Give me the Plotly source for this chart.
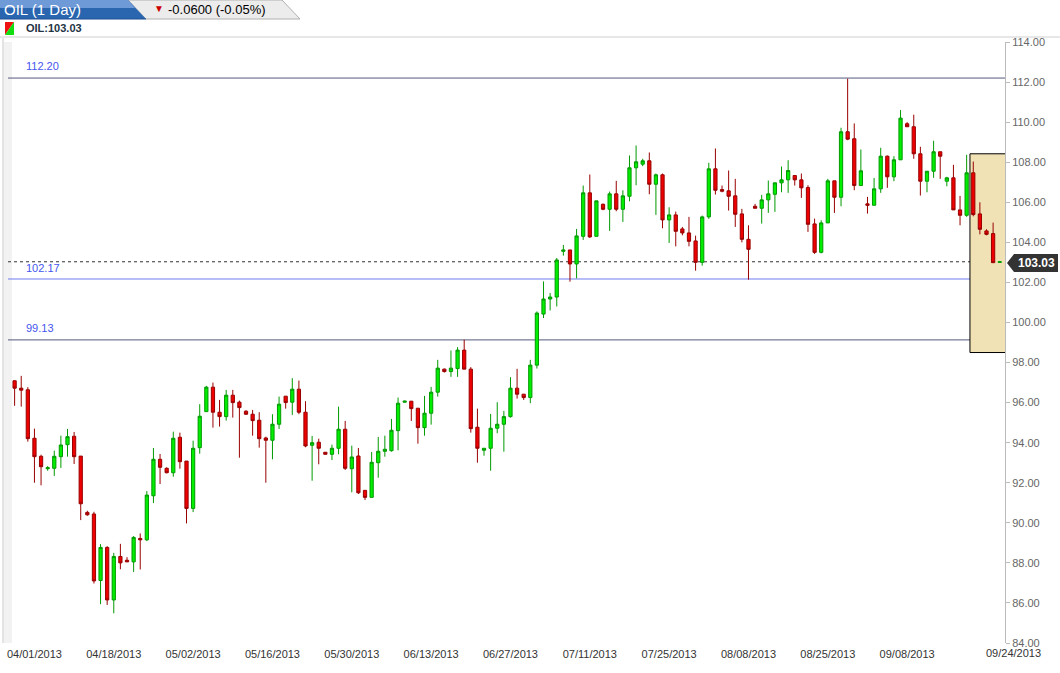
import plotly.graph_objects as go

opens = [97.09,96.72,96.64,94.22,93.32,92.70,92.72,93.30,93.90,94.32,93.33,90.52,90.44,87.12,88.77,86.15,88.32,88.13,88.05,89.22,89.15,91.35,93.17,92.72,92.50,
94.27,93.08,90.72,93.75,95.55,96.77,95.52,95.30,96.37,96.02,95.57,95.42,95.12,94.235,94.12,94.92,96.32,96.02,96.67,95.52,93.87,94.02,93.52,93.42,93.72,94.67,
92.70,93.335,91.62,91.27,93.00,93.57,93.60,94.60,96.02,96.07,95.72,94.75,95.47,96.52,97.67,97.55,97.70,98.62,97.67,94.77,93.62,93.72,94.72,94.92,95.30,96.72,
96.42,96.25,97.87,100.42,101.17,101.27,103.55,103.62,102.92,104.30,106.47,104.30,105.90,105.65,106.42,105.65,106.30,107.72,107.90,108.07,106.90,107.37,105.12,105.37,
104.67,104.47,104.07,103.00,105.27,107.67,106.635,106.57,106.32,105.42,104.15,105.80,105.70,106.12,106.40,106.97,107.12,107.335,107.12,106.735,104.92,103.50,104.97,107.07,106.25,109.52,
109.17,106.835,105.92,105.85,106.67,108.30,107.27,108.12,109.92,109.77,108.42,107.05,107.55,108.52,107.05,107.22,105.62,105.35,107.47,105.42,104.57,104.435,103.00]
highs = [97.10,97.335,96.77,94.70,93.40,92.83,93.60,94.35,94.685,94.535,93.33,90.60,90.55,88.935,88.835,88.50,88.95,88.285,89.335,89.47,91.585,93.735,93.435,92.77,94.55,
94.50,93.08,94.10,95.92,96.835,97.00,96.135,96.635,96.635,96.10,95.62,95.635,95.52,94.30,95.42,96.30,96.32,97.22,97.10,96.07,94.335,94.20,93.52,93.90,95.80,95.085,
93.85,93.735,91.62,93.535,94.285,94.35,95.185,96.25,96.10,96.07,95.72,96.335,96.785,98.135,97.70,98.60,98.77,99.135,97.77,95.70,93.72,95.435,96.02,95.585,97.27,97.685,
96.42,98.135,100.55,102.05,101.47,103.22,103.87,103.62,104.67,106.835,107.385,106.07,105.935,106.535,107.07,106.60,108.335,108.835,108.17,108.485,107.435,107.435,105.75,105.535,
104.77,105.27,104.335,105.335,107.97,108.685,106.835,107.585,107.17,105.67,104.85,105.92,106.37,107.085,106.97,107.785,108.10,107.335,107.435,106.85,105.185,105.10,107.17,107.07,109.72,112.17,
109.935,108.635,106.27,107.215,108.72,108.335,108.30,110.60,110.00,110.37,108.77,107.55,109.07,108.52,107.27,107.87,106.32,108.37,108.035,106.00,104.65,104.985,103.05]
lows = [95.84,95.80,94.05,92.00,91.87,92.60,92.34,92.74,93.30,92.935,90.135,90.35,86.97,85.935,85.90,85.485,87.68,88.05,87.55,87.67,89.085,90.985,91.935,92.47,92.30,
92.70,89.97,90.535,93.45,95.55,94.75,94.80,95.10,95.25,93.25,95.385,94.35,93.75,92.00,93.17,94.685,95.70,95.385,95.42,93.77,92.10,92.92,93.42,93.135,93.42,92.635,
91.52,91.435,91.135,91.27,92.25,93.30,93.55,93.62,96.00,95.085,93.95,94.35,94.90,96.30,97.50,97.285,97.285,97.67,94.50,93.00,93.35,92.60,94.47,93.55,95.25,96.20,
96.135,95.97,97.70,100.22,100.60,100.80,103.335,102.035,102.20,104.12,104.22,104.30,105.60,104.57,105.55,105.02,106.05,106.85,107.80,106.40,105.37,104.70,103.97,103.80,
104.35,103.80,102.585,102.835,105.17,106.385,106.50,105.585,104.77,104.00,102.135,105.70,104.935,105.47,105.52,106.50,106.47,106.835,106.22,104.52,103.42,103.45,104.97,105.47,105.80,109.10,
106.60,106.835,105.435,105.85,106.47,106.72,107.05,108.12,109.77,108.17,106.335,106.50,107.22,107.17,106.80,105.62,104.85,105.27,105.30,104.40,104.35,102.985,102.98]
closes = [96.72,96.62,94.20,93.30,92.80,92.75,93.32,93.885,94.30,93.30,90.95,90.40,87.10,88.77,86.15,88.32,88.00,88.05,89.27,89.15,91.385,93.17,92.77,92.50,94.22,
93.05,90.72,93.72,95.32,96.77,95.52,95.30,96.37,96.00,95.75,95.42,95.10,94.20,94.12,94.92,95.92,96.00,96.67,95.52,93.835,94.00,93.72,93.42,93.72,94.67,92.72,
93.285,91.50,91.27,93.02,93.57,93.67,94.62,95.97,96.07,95.70,94.75,95.47,96.52,97.72,97.55,97.72,98.62,97.67,94.70,93.72,93.72,94.72,94.92,95.30,96.72,96.42,
96.25,97.87,100.47,101.17,101.27,103.12,103.62,102.92,104.32,106.47,104.27,106.07,105.65,106.42,105.65,106.32,107.72,108.02,108.07,106.90,107.37,105.12,105.37,104.55,
104.47,104.05,103.00,105.27,107.67,106.60,106.55,106.30,105.40,104.15,103.65,105.70,106.12,106.42,106.97,107.12,107.585,107.12,106.72,104.90,103.50,104.97,107.07,106.25,109.52,109.15,
106.835,107.57,105.85,106.67,108.30,107.27,108.12,110.20,109.77,108.42,107.05,107.55,108.52,108.30,107.22,105.62,105.35,107.47,105.385,104.65,104.40,102.985,103.03]

tick_idx = [3, 15, 27, 39, 51, 63, 75, 87, 99, 111, 123, 135]
tick_txt = ["04/01/2013","04/18/2013","05/02/2013","05/16/2013","05/30/2013","06/13/2013",
            "06/27/2013","07/11/2013","07/25/2013","08/08/2013","08/25/2013","09/08/2013"]
last_tick_txt = "09/24/2013"
levels = [112.20, 102.17, 99.13]
last_price = 103.03
box_range = [144.5, 150.3, 98.5, 108.42]

x = list(range(len(opens)))
L, R, T, B = 8, 1005, 42, 643
def px(p): return (p - L) / (R - L)
def py(p): return (B - p) / (B - T)

fig = go.Figure(go.Candlestick(
    x=x, open=opens, high=highs, low=lows, close=closes,
    increasing=dict(fillcolor="#00ee00", line=dict(color="#009a00", width=1)),
    decreasing=dict(fillcolor="#ee0000", line=dict(color="#990000", width=1)),
    whiskerwidth=0, hoverinfo="skip", showlegend=False))

shapes = []
shapes.append(dict(type="rect", xref="paper", yref="paper", x0=px(4), x1=px(12), y0=0, y1=1,
                   fillcolor="#f2f2f2", line_width=0, layer="below"))
shapes.append(dict(type="rect", xref="x", yref="y", x0=box_range[0], x1=box_range[1],
                   y0=box_range[2], y1=box_range[3], fillcolor="#f0e2b4",
                   line=dict(color="black", width=1), layer="below"))
for lv, col in zip(levels, ["#555a7a", "#6d7cf0", "#555a7a"]):
    shapes.append(dict(type="line", xref="paper", yref="y", x0=0, x1=1, y0=lv, y1=lv,
                       line=dict(color=col, width=1), layer="below"))
shapes.append(dict(type="line", xref="paper", yref="y", x0=0, x1=1, y0=last_price, y1=last_price,
                   line=dict(color="#333", width=1, dash="dot"), layer="below"))
shapes.append(dict(type="line", xref="paper", yref="paper", x0=px(3), x1=px(3), y0=0, y1=py(38),
                   line=dict(color="#c8c8c8", width=1)))
shapes.append(dict(type="line", xref="paper", yref="paper", x0=px(0), x1=px(1060), y0=py(37), y1=py(37),
                   line=dict(color="#cfcfcf", width=1)))
shapes.append(dict(type="path", xref="paper", yref="paper",
                   path=f"M {px(128)},{py(0)} L {px(282)},{py(0)} L {px(300)},{py(19)} L {px(146)},{py(19)} Z",
                   fillcolor="#ececec", line=dict(color="#b0b0b0", width=1)))
shapes.append(dict(type="path", xref="paper", yref="paper",
                   path=f"M {px(0)},{py(0)} L {px(128)},{py(0)} L {px(146)},{py(19)} L {px(0)},{py(19)} Z",
                   fillcolor="#2a66b0", line_width=0))
shapes.append(dict(type="path", xref="paper", yref="paper",
                   path=f"M {px(0)},{py(0)} L {px(128)},{py(0)} L {px(135)},{py(8)} L {px(0)},{py(8)} Z",
                   fillcolor="#6f9ad8", line_width=0))
shapes.append(dict(type="line", xref="paper", yref="paper", x0=px(0), x1=px(146), y0=py(19), y1=py(19),
                   line=dict(color="#1d4f95", width=1)))
shapes.append(dict(type="path", xref="paper", yref="paper",
                   path=f"M {px(5)},{py(22)} L {px(14)},{py(22)} L {px(5)},{py(35)} Z", fillcolor="#ee1111", line_width=0))
shapes.append(dict(type="path", xref="paper", yref="paper",
                   path=f"M {px(14)},{py(22)} L {px(14)},{py(35)} L {px(5)},{py(35)} Z", fillcolor="#11dd11", line_width=0))
shapes.append(dict(type="path", xref="paper", yref="paper",
                   path=f"M {px(1007)},{py(263)} L {px(1014)},{py(254)} L {px(1058)},{py(254)} L {px(1058)},{py(272)} L {px(1014)},{py(272)} Z",
                   fillcolor="#333333", line_width=0))

ann = []
def txt(t, x0, y0, size=11, color="black", bold=False, xanchor="left", fam="Liberation Sans, Arial"):
    ann.append(dict(text=f"<b>{t}</b>" if bold else t, xref="paper", yref="paper", x=px(x0), y=py(y0),
                    xanchor=xanchor, yanchor="middle", showarrow=False,
                    font=dict(size=size, color=color, family=fam)))
txt("OIL (1 Day)", 2, 9, 15, "white")
txt("▼", 152, 8, 10, "#cc0000")
txt("-0.0600 (-0.05%)", 166, 9, 13, "black")
txt("OIL:103.03", 24, 28, 11, "#223344", bold=True)
for lv, yy in zip(levels, [66, 268, 328]):
    txt(f"{lv:.2f}", 24, yy, 11, "#4455ee")
txt(f"{last_price:.2f}", 1036, 263, 12, "white", bold=True, xanchor="center")
txt(last_tick_txt, 1013, 653, 11, "#333", xanchor="center")

fig.update_layout(
    width=1060, height=673, margin=dict(l=L, r=1060 - R, t=T, b=673 - B, autoexpand=False),
    paper_bgcolor="white", plot_bgcolor="white", shapes=shapes, annotations=ann,
    font=dict(family="Liberation Sans, Arial", size=11, color="#666"),
    xaxis=dict(range=[-1, 149.8], tickvals=tick_idx, ticktext=tick_txt, showgrid=False,
               rangeslider=dict(visible=False), zeroline=False, showline=False,
               tickfont=dict(size=11, color="#333"), ticks="outside", ticklen=1, tickcolor="rgba(0,0,0,0)"),
    yaxis=dict(range=[84, 114], side="right", dtick=2, tickformat=".2f", showgrid=False,
               zeroline=False, showline=True, linecolor="#bbbbbb", ticks="outside",
               ticklen=4, tickcolor="#bbbbbb", tickfont=dict(size=11, color="#666")),
)
fig.write_html("out.html", config={"displayModeBar": False},
               post_script="document.body.style.margin='0';document.body.style.overflow='hidden';")
